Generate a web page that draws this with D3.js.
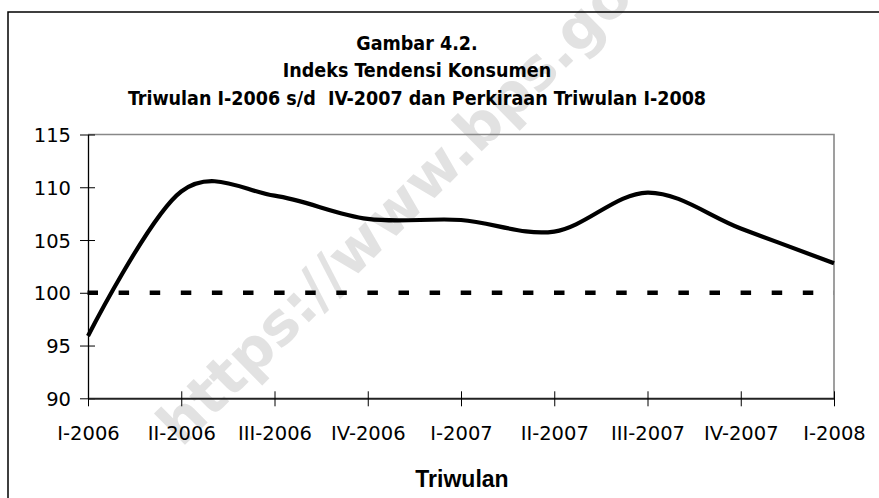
<!DOCTYPE html>
<html>
<head>
<meta charset="utf-8">
<script src="https://cdn.jsdelivr.net/npm/d3@7"></script>
<style>
  html, body { margin: 0; padding: 0; background: #fff; }
  svg { display: block; }
</style>
</head>
<body>
<svg id="chart" width="879" height="498"></svg>
<script>
// ---- data ----
const categories = ["I-2006","II-2006","III-2006","IV-2006","I-2007","II-2007","III-2007","IV-2007","I-2008"];
const itkValues = [95.9, 109.6, 109.2, 107.0, 106.9, 105.8, 109.5, 106.1, 102.8];
const referenceValue = 100;
const yTicks = [90, 95, 100, 105, 110, 115];
const titleLines = ["Gambar 4.2.", "Indeks Tendensi Konsumen", "Triwulan I-2006 s/d  IV-2007 dan Perkiraan Triwulan I-2008"];
const xAxisTitle = "Triwulan";
const watermarkText = "https://www.bps.go.id";

// ---- layout ----
const svg = d3.select("#chart");
const plot = { left: 88, right: 834, top: 134.5, bottom: 398.3 };

const x = d3.scalePoint().domain(categories).range([plot.left, plot.right]);
const y = d3.scaleLinear().domain([90, 115]).range([plot.bottom, plot.top]);

// watermark (behind everything)
svg.append("text")
  .attr("transform", "translate(289,318) rotate(-44.7)")
  .attr("x", -168).attr("y", 17)
  .attr("font-family", "DejaVu Sans, Verdana, sans-serif")
  .attr("font-weight", "bold")
  .attr("font-size", 58)
  .attr("fill", "#e2e2e2")
  .text(watermarkText);

// outer frame
svg.append("path")
  .attr("d", "M8,510 L8,12 L890,12")
  .attr("fill", "none").attr("stroke", "#000").attr("stroke-width", 1.5);

// plot border (top & right grey)
svg.append("path")
  .attr("d", `M${plot.left},${plot.top} L${plot.right},${plot.top} L${plot.right},${plot.bottom}`)
  .attr("fill", "none").attr("stroke", "#888").attr("stroke-width", 1.6);

// title
const title = svg.append("g")
  .attr("font-family", "DejaVu Sans Condensed, DejaVu Sans, Verdana, sans-serif")
  .attr("font-weight", "bold")
  .attr("fill", "#000")
  .attr("text-anchor", "middle");
const baselines = [49.5, 77, 104.5];
const tNodes = titleLines.map((t, i) =>
  title.append("text").attr("x", 417).attr("y", baselines[i]).attr("font-size", 18)
    .attr("xml:space", "preserve").style("white-space", "pre").text(t));
// fit the longest line to the reference width
const w = tNodes[2].node().getComputedTextLength();
const fs = Math.min(19.5, 18 * 592 / w);
tNodes.forEach(n => n.attr("font-size", fs));

// reference dashed line at 100
svg.append("line")
  .attr("x1", plot.left - 0.5).attr("x2", plot.right)
  .attr("y1", y(referenceValue)).attr("y2", y(referenceValue))
  .attr("stroke", "#000").attr("stroke-width", 4.5)
  .attr("stroke-dasharray", "10.5,20.6");

// y axis
const yAxis = svg.append("g")
  .attr("transform", `translate(${plot.left},0)`)
  .call(d3.axisLeft(y).tickValues(yTicks).tickSizeInner(8).tickSizeOuter(0).tickPadding(9));
yAxis.select(".domain").attr("stroke", "#000").attr("stroke-width", 1.3);
yAxis.selectAll(".tick line").attr("x2", 7).attr("x1", -8).attr("stroke", "#000");
yAxis.selectAll(".tick text")
  .attr("font-family", "DejaVu Sans, Verdana, sans-serif")
  .attr("font-size", 19.5).attr("fill", "#000")
  .attr("x", -17).attr("dy", "0.36em");

// x axis
const xAxis = svg.append("g")
  .attr("transform", `translate(0,${plot.bottom})`)
  .call(d3.axisBottom(x).tickSizeInner(7).tickSizeOuter(0).tickPadding(0));
xAxis.select(".domain").attr("stroke", "#222").attr("stroke-width", 2);
xAxis.selectAll(".tick line").attr("y1", -7).attr("y2", 8).attr("stroke", "#000");
xAxis.selectAll(".tick text")
  .attr("font-family", "DejaVu Sans, Verdana, sans-serif")
  .attr("font-size", 19.5).attr("fill", "#000")
  .attr("y", 41.7).attr("dy", 0);

// data line (smoothed)
const line = d3.line()
  .x((d, i) => x(categories[i]))
  .y(d => y(d))
  .curve(d3.curveCardinal.tension(0));
svg.append("path")
  .datum(itkValues)
  .attr("d", line)
  .attr("fill", "none")
  .attr("stroke", "#000")
  .attr("stroke-width", 4.2)
  .attr("stroke-linejoin", "round");

// x axis title
svg.append("text")
  .attr("x", 462).attr("y", 487)
  .attr("text-anchor", "middle")
  .attr("font-family", "Liberation Sans, Arial, sans-serif")
  .attr("font-weight", "bold")
  .attr("font-size", 23)
  .attr("fill", "#000")
  .text(xAxisTitle);
</script>
</body>
</html>
